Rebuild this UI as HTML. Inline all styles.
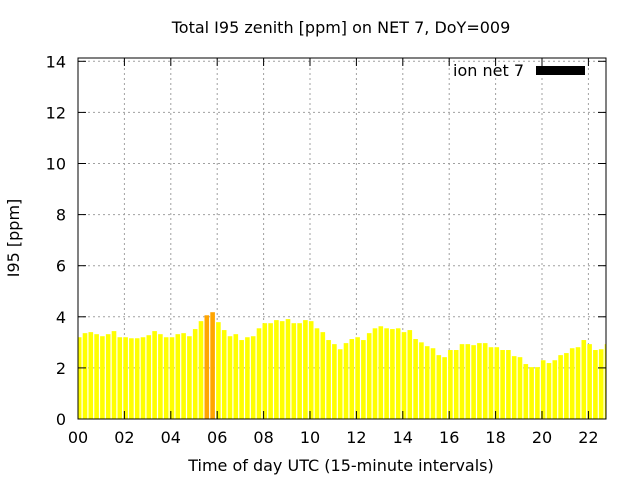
<!DOCTYPE html>
<html><head><meta charset="utf-8"><style>
body{margin:0;background:#fff;}
svg text{font-family:"DejaVu Sans","Liberation Sans",sans-serif;font-size:16px;fill:#000;}
</style></head><body>
<svg id="chart" width="640" height="480" xmlns="http://www.w3.org/2000/svg">
<rect width="640" height="480" fill="#fff"/>
<text x="341" y="33" text-anchor="middle">Total I95 zenith [ppm] on NET 7, DoY=009</text>
<text x="341" y="471" text-anchor="middle">Time of day UTC (15-minute intervals)</text>
<text transform="translate(19,238) rotate(-90)" text-anchor="middle">I95 [ppm]</text>
<g id="grid"></g>
<g id="bars"></g>
<g id="axes"></g>
<text x="524" y="76" text-anchor="end">ion net 7</text>
<rect x="536" y="66" width="49" height="9" fill="#000"/>
</svg>
<script>
const values = [3.20,3.36,3.40,3.32,3.24,3.32,3.44,3.20,3.20,3.16,3.16,3.20,3.28,3.44,3.32,3.20,3.20,3.32,3.36,3.24,3.52,3.83,4.06,4.18,3.79,3.48,3.24,3.32,3.09,3.20,3.24,3.55,3.75,3.75,3.87,3.83,3.91,3.75,3.75,3.87,3.83,3.55,3.40,3.09,2.93,2.73,
2.97,3.13,3.20,3.09,3.36,3.55,3.63,3.55,3.52,3.55,3.40,3.48,3.13,3.00,2.85,2.77,2.50,2.42,2.70,2.70,2.93,2.93,2.89,2.97,2.97,2.81,2.81,2.70,2.70,2.46,2.42,2.15,2.03,2.03,2.30,2.19,2.30,2.50,2.58,2.77,2.81,3.09,2.93,2.70,2.73,2.93];
const yTicks = [0,2,4,6,8,10,12,14];
const xTicks = [0,2,4,6,8,10,12,14,16,18,20,22];
const xTickLabels = ["00","02","04","06","08","10","12","14","16","18","20","22"];
const L=78,R=606,T=58,B=419;
const NS="http://www.w3.org/2000/svg";
const xs = h => L + h*23.2;
const ys = v => B - v*25.55;
function mk(tag,attrs,parent){const e=document.createElementNS(NS,tag);for(const k in attrs)e.setAttribute(k,attrs[k]);parent.appendChild(e);return e;}
const grid=document.getElementById('grid'),bars=document.getElementById('bars'),axes=document.getElementById('axes');
const clip=mk('clipPath',{id:'pc'},document.getElementById('chart'));
mk('rect',{x:L,y:T,width:R-L,height:B-T},clip);
bars.setAttribute('clip-path','url(#pc)');
yTicks.forEach(v=>{
  const y=ys(v);
  if(v>0){const g=mk('line',{x1:L,x2:R,y1:y,y2:y,stroke:'#a0a0a0','stroke-dasharray':'2,3'},grid);
  
  }
  mk('line',{x1:L,x2:L+8,y1:y,y2:y,stroke:'#000'},axes);
  mk('line',{x1:R,x2:R-8,y1:y,y2:y,stroke:'#000'},axes);
  const t=mk('text',{x:L-12,y:y+6,'text-anchor':'end'},axes);t.textContent=v;
  
  
});
xTicks.forEach((h,i)=>{
  const x=xs(h);
  if(h>0){const g=mk('line',{x1:x,x2:x,y1:T,y2:B,stroke:'#a0a0a0','stroke-dasharray':'2,3'},grid);
  
  }
  mk('line',{x1:x,x2:x,y1:B,y2:B-8,stroke:'#000'},axes);
  mk('line',{x1:x,x2:x,y1:T,y2:T+8,stroke:'#000'},axes);
  const t=mk('text',{x:x,y:B+24,'text-anchor':'middle'},axes);t.textContent=xTickLabels[i];
  
  
});
values.forEach((v,i)=>{
  const cx=xs(i*0.25)+1.2;
  const r=mk('rect',{x:cx-2.3,y:ys(v),width:4.6,height:B-ys(v),fill:v>4?'#ffa500':'#ffff00'},bars);
  
  
});
mk('rect',{x:L,y:T,width:R-L,height:B-T,fill:'none',stroke:'#000','stroke-width':1},axes);
</script>
</body></html>
